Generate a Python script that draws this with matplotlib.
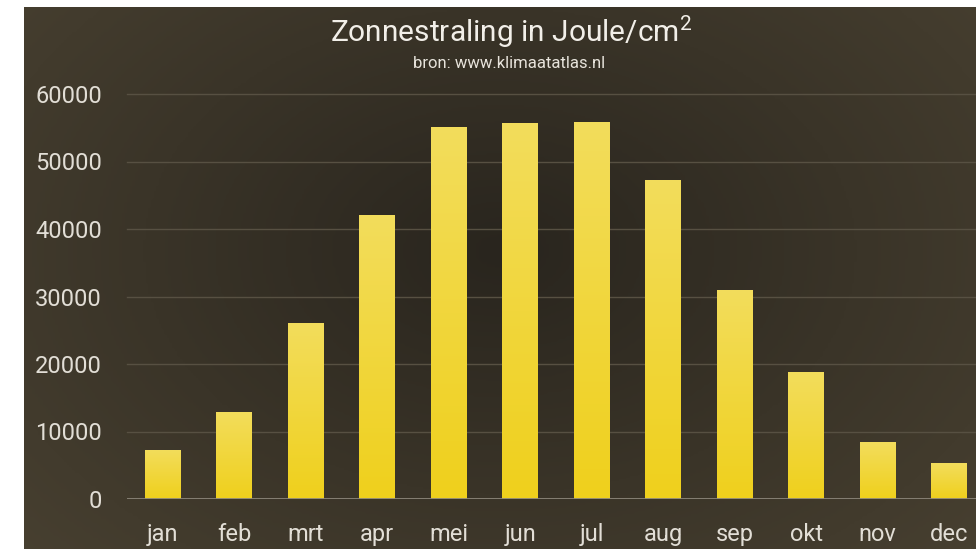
import numpy as np
import matplotlib
matplotlib.use("Agg")
import matplotlib.pyplot as plt
from matplotlib.colors import LinearSegmentedColormap

plt.rcParams["mathtext.fontset"] = "custom"
plt.rcParams["mathtext.rm"] = "Roboto"
plt.rcParams["mathtext.it"] = "Roboto"
plt.rcParams["mathtext.bf"] = "Roboto"

months = ["jan", "feb", "mrt", "apr", "mei", "jun", "jul", "aug", "sep", "okt", "nov", "dec"]
values = [7300, 12900, 26100, 42100, 55100, 55700, 55900, 47300, 31000, 18800, 8400, 5300]
yticks = [0, 10000, 20000, 30000, 40000, 50000, 60000]

W, H = 976, 549
fig = plt.figure(figsize=(W / 100, H / 100), dpi=100)
fig.patch.set_facecolor("white")

# background panel with radial gradient (darker in the centre)
bx0, by1 = 24 / W, 1 - 7 / H
bg = fig.add_axes([bx0, 0, 1 - bx0, by1])
bg.set_axis_off()
gy, gx = np.mgrid[0:1:200j, 0:1:360j]
r = np.sqrt(((gx - 0.5) / 0.75) ** 2 + ((gy - 0.45) / 0.9) ** 2)
bgcmap = LinearSegmentedColormap.from_list("bg", ["#29251e", "#3a3428", "#4a4232"])
bg.imshow(np.clip(r, 0, 1), cmap=bgcmap, aspect="auto", extent=[0, 1, 0, 1], vmin=0, vmax=1)
bg.set_xlim(0, 1); bg.set_ylim(0, 1)

# main axes: left at x=127, baseline y=499, 60000 at y=94; category width 71.5 px
left = 127 / W
bottom = 1 - 499 / H
top60 = 1 - 94 / H
height = (top60 - bottom) * 62000 / 60000
width = 12 * 71.5 / W
ax = fig.add_axes([left, bottom, width, height])
ax.patch.set_alpha(0)

x = np.arange(len(months))
bars = ax.bar(x, values, width=0.5, color="#f0d536", zorder=3)

# vertical gradient within bars
grad = np.linspace(0, 1, 256).reshape(-1, 1)
barcmap = LinearSegmentedColormap.from_list("bar", ["#efd01c", "#f3dd5c"])
for b in bars:
    xx, yy = b.get_x(), b.get_y()
    im = ax.imshow(grad, cmap=barcmap, aspect="auto", origin="lower",
                   extent=[xx, xx + b.get_width(), yy, yy + b.get_height()], zorder=3)
    im.set_clip_path(b)
    b.set_alpha(0)
ax.set_xlim(-0.5, 11.5)
ax.set_ylim(0, 62000)

for t in yticks[1:]:
    ax.axhline(t, color="#575042", lw=1.0, zorder=1, clip_on=False)
ax.axhline(0, color="#8c867a", lw=2.0, zorder=4)

for s in ax.spines.values():
    s.set_visible(False)
ax.set_yticks(yticks)
ax.set_yticklabels([str(t) for t in yticks])
ax.set_xticks(x)
ax.set_xticklabels(months)
ax.tick_params(axis="both", length=0, colors="#e2ded6", labelsize=17)
ax.tick_params(axis="y", pad=18)
ax.tick_params(axis="x", pad=17)
for lab in ax.get_xticklabels() + ax.get_yticklabels():
    lab.set_fontfamily("Roboto")

fig.text(511 / W, 1 - 42 / H, r"Zonnestraling in Joule/cm$\mathregular{^2}$", ha="center",
         va="baseline", color="#f2efe9", fontsize=21.5, fontfamily="Roboto")
fig.text(509 / W, 1 - 68 / H, "bron: www.klimaatatlas.nl", ha="center", va="baseline",
         color="#e8e4dc", fontsize=12, fontfamily="Roboto")

fig.savefig("out.png", dpi=100, facecolor=fig.get_facecolor())
